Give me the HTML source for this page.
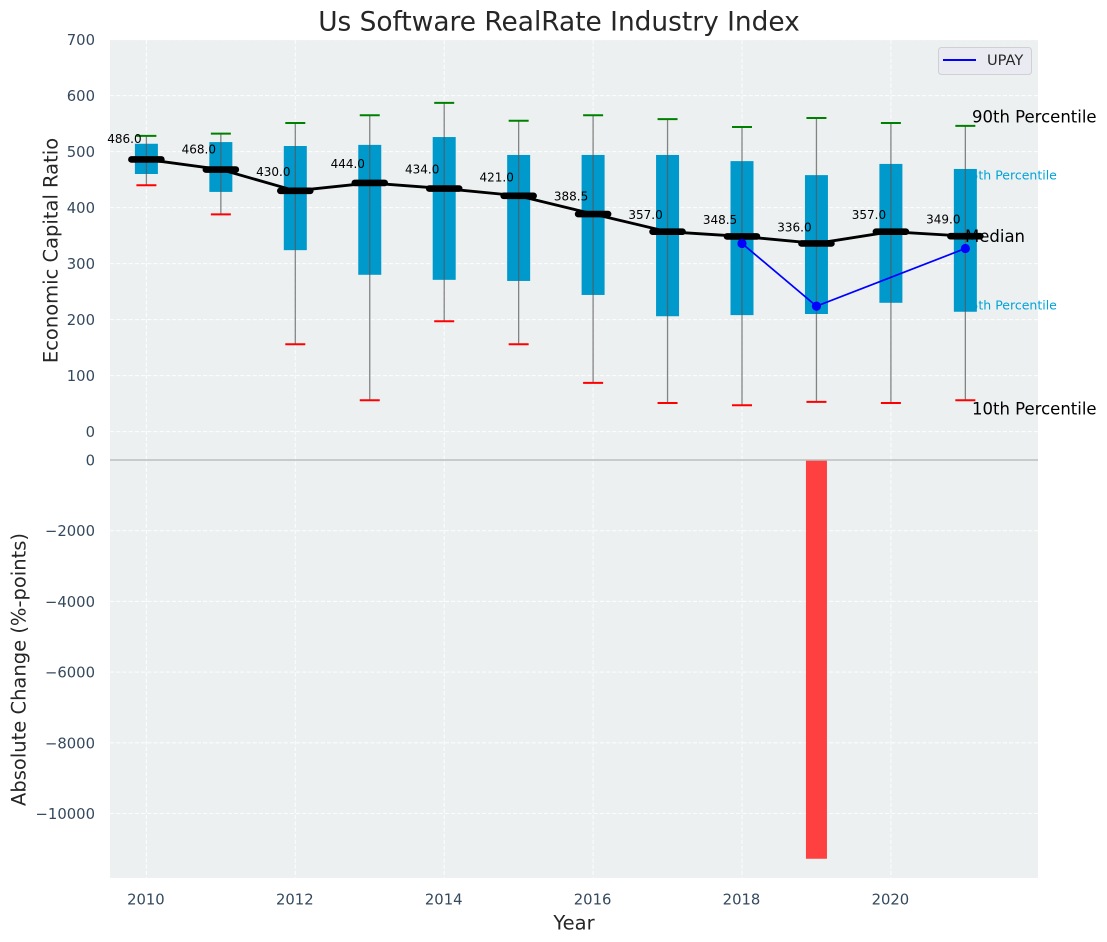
<!DOCTYPE html>
<html lang="en">
<head>
<meta charset="utf-8">
<title>Us Software RealRate Industry Index</title>
<style>
html,body{margin:0;padding:0;background:#fff;}
svg{display:block;font-family:"DejaVu Sans","Liberation Sans",sans-serif;}
</style>
</head>
<body>
<svg id="chart" xmlns="http://www.w3.org/2000/svg" width="1107" height="942" viewBox="0 0 1107 942">
  <rect x="110" y="40" width="928" height="420" fill="#ecf0f1"/>
  <rect x="110" y="460" width="928" height="418" fill="#ecf0f1"/>
  <g id="grid" opacity="0.85"></g>
  <g id="teal"></g>
  <g id="boxes"></g>
  <g id="bars"></g>
  <line x1="110" x2="1038" y1="460" y2="460" stroke="#bdbdbd" stroke-width="1.4"/>
  <g id="median"></g>
  <g id="upay"></g>
  <g id="ticks"></g>
  <text x="559" y="22" text-anchor="middle" dominant-baseline="central" font-size="26.4" fill="#262626">Us Software RealRate Industry Index</text>
  <text transform="translate(51,250.500) rotate(-90)" text-anchor="middle" dominant-baseline="central" font-size="19.5" fill="#262626">Economic Capital Ratio</text>
  <text transform="translate(19,669.500) rotate(-90)" text-anchor="middle" dominant-baseline="central" font-size="19.5" fill="#262626">Absolute Change (%-points)</text>
  <text x="574" y="923" text-anchor="middle" dominant-baseline="central" font-size="19.5" fill="#262626">Year</text>
  <text x="972" y="117" dominant-baseline="central" font-size="16.5" fill="#000">90th Percentile</text>
  <text x="965" y="236.500" dominant-baseline="central" font-size="16.5" fill="#000">Median</text>
  <text x="972" y="409" dominant-baseline="central" font-size="16.5" fill="#000">10th Percentile</text>
  <g>
    <rect x="938.500" y="47.500" width="93" height="27" rx="3" fill="#eaeaf2" stroke="#cfcfd4" stroke-width="1"/>
    <line x1="943" x2="976" y1="60" y2="60" stroke="#0000ff" stroke-width="2"/>
    <text x="987" y="60.500" dominant-baseline="central" font-size="14.6" fill="#262626">UPAY</text>
  </g>
</svg>
<script>
const years = [2010,2011,2012,2013,2014,2015,2016,2017,2018,2019,2020,2021];
const p90 = [528,532,551,565,587,555,565,558,544,560,551,546];
const p75 = [514,517,510,512,526,494,494,494,483,458,478,469];
const medianValues = [486,468,430,444,434,421,388.5,357,348.5,336,357,349];
const p25 = [460,428,324,280,271,269,244,206,208,210,230,214];
const p10 = [440,388,156,56,197,156,87,51,47,53,51,56];
const upayYears = [2018,2019,2021];
const upayValues = [336,224,327];
const changeValues = [0,0,0,0,0,0,0,0,0,-11280,0,0];
const xTicks = [2010,2012,2014,2016,2018,2020];
const upperTicks = [0,100,200,300,400,500,600,700];
const lowerTicks = [0,-2000,-4000,-6000,-8000,-10000];

const NS = 'http://www.w3.org/2000/svg';
const xScale = v => 146.4 + (v - 2010) * 74.45;
const yUpper = v => 431.6 - v * 0.56;
const yLower = v => 460 - v * 0.03535;

function make(parent, tag, attrs, text) {
  const el = document.createElementNS(NS, tag);
  for (const k in attrs) el.setAttribute(k, attrs[k]);
  if (text !== undefined) el.textContent = text;
  document.getElementById(parent).appendChild(el);
  return el;
}
const fmtTick = v => (v < 0 ? '\u2212' + Math.abs(v) : String(v));
const gridStyle = {stroke:'#ffffff','stroke-width':1.1,'stroke-dasharray':'4.2 2'};

xTicks.forEach(t => {
  const g = make('grid','line',Object.assign({x1:xScale(t),x2:xScale(t),y1:40,y2:878},gridStyle));
  
  
  const l = make('ticks','text',{x:xScale(t)-0.5,y:900,'text-anchor':'middle','dominant-baseline':'central','font-size':14.8,fill:'#34495e'},String(t));
  
  
});
upperTicks.forEach(t => {
  const g = make('grid','line',Object.assign({x1:110,x2:1038,y1:yUpper(t),y2:yUpper(t)},gridStyle));
  
  
  const l = make('ticks','text',{x:95,y:yUpper(t)+1,'text-anchor':'end','dominant-baseline':'central','font-size':14.8,fill:'#34495e'},fmtTick(t));
  
  
});
lowerTicks.forEach(t => {
  if (t !== 0) {
    const g = make('grid','line',Object.assign({x1:110,x2:1038,y1:yLower(t),y2:yLower(t)},gridStyle));
    
    
  }
  const l = make('ticks','text',{x:95,y:yLower(t)+1,'text-anchor':'end','dominant-baseline':'central','font-size':14.8,fill:'#34495e'},fmtTick(t));
  
  
});

const t75 = make('teal','text',{x:962.500,y:175,'dominant-baseline':'central','font-size':12.5,fill:'#00a3d9'},'75th Percentile');


const t25 = make('teal','text',{x:962.500,y:305,'dominant-baseline':'central','font-size':12.5,fill:'#00a3d9'},'25th Percentile');



years.forEach((yr, i) => {
  const x = xScale(yr);
  const box = make('boxes','rect',{x:x-11.5,y:yUpper(p75[i]),width:23,height:yUpper(p25[i])-yUpper(p75[i]),fill:'#0099cc'});
  
  
  const wh = make('boxes','line',{x1:x,x2:x,y1:yUpper(p90[i]),y2:yUpper(p10[i]),stroke:'#555','stroke-opacity':0.7,'stroke-width':1.3});
  
  
  const capHi = make('boxes','line',{x1:x-10,x2:x+10,y1:yUpper(p90[i]),y2:yUpper(p90[i]),stroke:'#008000','stroke-width':2});
  
  
  const capLo = make('boxes','line',{x1:x-10,x2:x+10,y1:yUpper(p10[i]),y2:yUpper(p10[i]),stroke:'#ff0000','stroke-width':2});
  
  

  if (changeValues[i] !== 0) {
    const bar = make('bars','rect',{x:x-10.5,y:yLower(0),width:21,height:yLower(changeValues[i])-yLower(0),fill:'#ff4040'});
    
    
  }
});

const medLine = make('median','polyline',{points:years.map((yr,i)=>xScale(yr)+','+yUpper(medianValues[i])).join(' '),fill:'none',stroke:'#000','stroke-width':2.8});


years.forEach((yr, i) => {
  const x = xScale(yr), y = yUpper(medianValues[i]);
  const tick = make('median','line',{x1:x-15,x2:x+15,y1:y,y2:y,stroke:'#000','stroke-width':6.6,'stroke-linecap':'round'});
  
  
  const lab = make('median','text',{x:x-22,y:yUpper(medianValues[i] * 1.05 + 12),'text-anchor':'middle','dominant-baseline':'central','font-size':12,fill:'#000'},medianValues[i].toFixed(1));
  
  
});

const upLine = make('upay','polyline',{points:upayYears.map((yr,i)=>xScale(yr)+','+yUpper(upayValues[i])).join(' '),fill:'none',stroke:'#0000ff','stroke-width':1.7});


upayYears.forEach((yr, i) => {
  const dot = make('upay','circle',{cx:xScale(yr),cy:yUpper(upayValues[i]),r:4.6,fill:'#0000ff'});
  
  
});
</script>
</body>
</html>
